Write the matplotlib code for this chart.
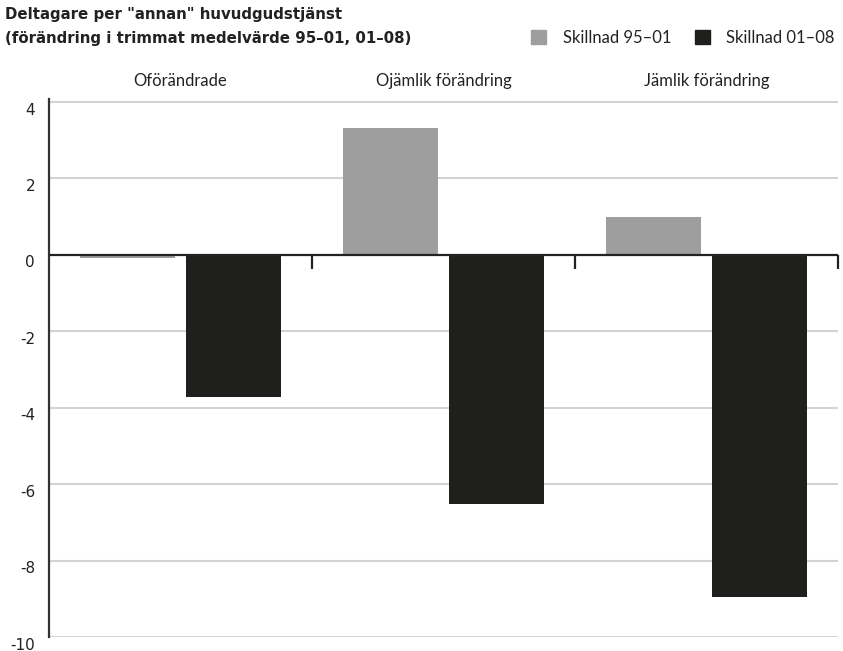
import matplotlib.pyplot as plt
from matplotlib.transforms import ScaledTranslation

plt.rcParams['font.family'] = ['Lato', 'DejaVu Sans']

groups = ['Oförändrade', 'Ojämlik förändring', 'Jämlik förändring']
series_names = ['Skillnad 95\u201301', 'Skillnad 01\u201308']
diff_95_01 = [-0.08, 3.32, 1.0]
diff_01_08 = [-3.71, -6.53, -8.95]
y_ticks = [4, 2, 0, -2, -4, -6, -8, -10]

GRAY = '#9e9e9e'
BLACK = '#1f1f1d'
TEXT = '#222222'

fig = plt.figure(figsize=(8.43, 6.51), dpi=100)
ax = fig.add_axes([49 / 843, 1 - 637 / 651, (838 - 49) / 843, (637 - 99) / 651])

x = range(len(groups))
width = 0.361
offset = 0.2
ax.bar([i - offset for i in x], diff_95_01, width, color=GRAY, zorder=3)
ax.bar([i + offset for i in x], diff_01_08, width, color=BLACK, zorder=3)

ax.set_xlim(-0.5, len(groups) - 0.5)
ax.set_ylim(-10, 4.08)

# grid
for y in y_ticks:
    if y != 0:
        ax.axhline(y, color='#d3d3d3', lw=1.5, zorder=1)
ax.axhline(0, color=TEXT, lw=1.6, zorder=4)

for s in ['top', 'right', 'bottom']:
    ax.spines[s].set_visible(False)
ax.spines['left'].set_color('#333333')
ax.spines['left'].set_linewidth(1.6)

ax.set_yticks(y_ticks)
ax.set_yticklabels([str(v) for v in y_ticks])
ax.tick_params(axis='y', length=0, pad=10)
for lbl in ax.get_yticklabels():
    lbl.set_fontfamily('DejaVu Sans')
    lbl.set_fontsize(11)
    lbl.set_color(TEXT)
    lbl.set_va('center')
    lbl.set_transform(lbl.get_transform() + ScaledTranslation(0, -8 / 100, fig.dpi_scale_trans))

# group divider ticks hanging off the zero line
for i in range(1, len(groups) + 1):
    ax.plot([i - 0.5, i - 0.5], [0, -14 / 38.2], color=TEXT, lw=1.6, zorder=4,
            clip_on=False, solid_capstyle='butt')
ax.set_xticks([])

# category labels above the plot
for i, g in enumerate(groups):
    ax.text(i, 1, g, transform=ax.get_xaxis_transform(), ha='center', va='bottom',
            fontsize=12, color=TEXT)
for t in ax.texts:
    t.set_transform(t.get_transform() + ScaledTranslation(0, 10 / 100, fig.dpi_scale_trans))

fig.text(5 / 843, 1 - 15 / 651, 'Deltagare per "annan" huvudgudstjänst', fontsize=10.8,
         fontweight='bold', va='center', color=TEXT, family='DejaVu Sans')
fig.text(5 / 843, 1 - 38 / 651, '(förändring i trimmat medelvärde 95\u201301, 01\u201308)',
         fontsize=10.8, fontweight='bold', va='center', color=TEXT, family='DejaVu Sans')

# legend
handles = [plt.Rectangle((0, 0), 1, 1, color=c) for c in (GRAY, BLACK)]
fig.legend(handles, series_names, loc='center right', bbox_to_anchor=(850 / 843, 1 - 38 / 651),
           ncol=2, frameon=False, fontsize=12, handlelength=0.9, handleheight=0.9,
           handletextpad=1.0, columnspacing=1.4, labelcolor=TEXT)

fig.savefig('out.png', dpi=100, facecolor='white')
